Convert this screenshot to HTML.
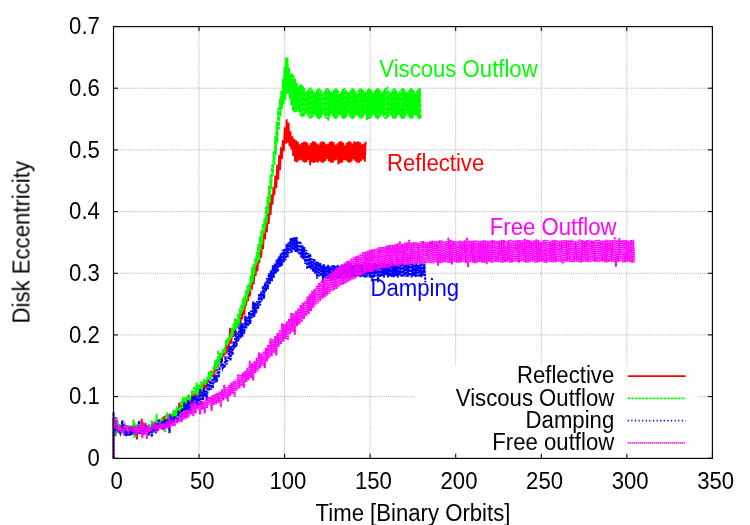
<!DOCTYPE html>
<html><head><meta charset="utf-8"><title>Disk Eccentricity</title>
<style>html,body{margin:0;padding:0;background:#fff;width:750px;height:525px;overflow:hidden}</style></head>
<body>
<svg width="750" height="525" viewBox="0 0 750 525" style="position:absolute;left:0;top:0">
<rect width="750" height="525" fill="#fff"/>
<g stroke="#a4a4a4" stroke-width="0.85" stroke-dasharray="1 1.08" fill="none">
<line x1="199.0" y1="26.6" x2="199.0" y2="458.3"/>
<line x1="284.6" y1="26.6" x2="284.6" y2="458.3"/>
<line x1="370.1" y1="26.6" x2="370.1" y2="458.3"/>
<line x1="455.7" y1="26.6" x2="455.7" y2="458.3"/>
<line x1="541.3" y1="26.6" x2="541.3" y2="458.3"/>
<line x1="626.8" y1="26.6" x2="626.8" y2="458.3"/>
<line x1="113.5" y1="396.6" x2="712.4" y2="396.6"/>
<line x1="113.5" y1="334.9" x2="712.4" y2="334.9"/>
<line x1="113.5" y1="273.3" x2="712.4" y2="273.3"/>
<line x1="113.5" y1="211.6" x2="712.4" y2="211.6"/>
<line x1="113.5" y1="149.9" x2="712.4" y2="149.9"/>
<line x1="113.5" y1="88.2" x2="712.4" y2="88.2"/>
</g>
<g fill="none" stroke-linejoin="miter" stroke-linecap="butt">
<path d="M113.5,458.3 113.5,418.1 114.4,424.8 115.3,420.5 116.3,432.9 117.2,420.4 118.2,430.9 119.1,424.4 120.0,431.2 121.0,424.8 121.9,431.8 122.9,426.5 123.8,432.6 124.7,427.7 125.7,434.8 126.6,426.9 127.6,433.8 128.5,426.5 129.5,434.5 130.4,428.7 131.3,433.4 132.3,426.9 133.2,434.2 134.2,422.7 135.1,432.0 136.0,435.1 137.0,439.4 137.9,425.8 138.9,433.4 139.8,426.1 140.7,431.9 141.7,418.7 142.6,435.3 143.6,424.9 144.5,426.5 145.5,422.9 146.4,430.9 147.3,425.0 148.3,435.4 149.2,424.5 150.2,430.5 151.1,426.2 152.0,432.1 153.0,422.3 153.9,432.5 154.9,421.9 155.8,429.5 156.7,422.0 157.7,428.8 158.6,420.6 159.6,426.1 160.5,419.5 161.5,429.3 162.4,417.3 163.3,427.4 164.3,416.0 165.2,427.2 166.2,415.5 167.1,422.8 168.0,418.8 169.0,422.7 169.9,413.6 170.9,421.0 171.8,414.1 172.7,422.2 173.7,410.9 174.6,418.2 175.6,410.2 176.5,414.2 177.5,412.6 178.4,414.5 179.3,402.7 180.3,413.6 181.2,405.4 182.2,409.6 183.1,402.3 184.0,406.4 185.0,401.7 185.9,410.5 186.9,398.5 187.8,406.0 188.7,394.6 189.7,403.4 190.6,399.0 191.6,404.1 192.5,391.8 193.5,397.4 194.4,393.1 195.3,397.8 196.3,389.1 197.2,396.0 198.2,386.1 199.1,394.7 200.0,386.7 201.0,392.9 201.9,383.4 202.9,397.5 203.8,383.5 204.7,388.8 205.7,384.3 206.6,386.3 207.6,379.2 208.5,382.1 209.5,375.9 210.4,379.0 211.3,370.7 212.3,376.5 213.2,371.5 214.2,378.4 215.1,361.0 216.0,371.2 217.0,364.0 217.9,367.3 218.9,360.2 219.8,361.6 220.7,356.7 221.7,360.2 222.6,353.5 223.6,356.5 224.5,350.2 225.5,352.3 226.4,340.1 227.3,353.2 228.3,349.2 229.2,343.4 230.2,327.8 231.1,343.6 232.0,334.6 233.0,337.0 233.9,328.8 234.9,334.7 235.8,323.9 236.7,328.5 237.7,320.8 238.6,324.6 239.6,315.5 240.5,323.1 241.5,310.4 242.4,319.3 243.3,305.2 244.3,314.7 245.2,302.6 246.2,304.0 247.1,296.1 248.0,301.2 249.0,288.0 249.9,296.4 250.9,281.3 251.8,289.6 252.7,274.5 253.7,284.5 254.6,268.4 255.6,276.0 256.5,264.2 257.5,271.1 258.4,255.2 259.3,263.1 260.3,248.2 261.2,257.7 262.2,242.1 263.1,248.9 264.0,232.2 265.0,239.3 265.9,223.4 266.9,232.1 267.8,212.1 268.7,224.0 269.7,201.7 270.6,215.0 271.6,194.4 272.5,204.7 273.5,186.8 274.4,195.2 275.3,175.5 276.3,188.0 277.2,164.7 278.2,179.6 279.1,155.0 280.0,170.2 281.0,147.3 281.9,159.3 282.9,140.0 283.8,151.2 284.7,127.4 285.7,143.6 286.6,119.4 287.6,142.7 288.5,122.6 289.5,146.1 290.4,131.3 291.3,149.5 292.3,136.4 293.2,156.0 294.2,138.7 295.1,161.8 296.0,140.4 297.0,162.2 297.9,141.7 298.9,160.6 299.8,144.3 300.8,159.7 301.7,143.0 302.6,161.4 303.6,141.8 304.5,162.8 305.5,141.5 306.4,162.2 307.3,142.9 308.3,159.9 309.2,145.3 310.2,165.2 311.1,142.7 312.0,162.3 313.0,141.4 313.9,162.9 314.9,141.6 315.8,162.0 316.8,143.4 317.7,162.6 318.6,144.5 319.6,160.9 320.5,142.3 321.5,162.5 322.4,141.3 323.3,162.7 324.3,142.0 325.2,161.3 326.2,144.2 327.1,159.0 328.0,143.9 329.0,161.5 329.9,141.8 330.9,162.7 331.8,141.3 332.8,162.8 333.7,142.4 334.6,160.7 335.6,144.9 336.5,159.7 337.5,143.2 338.4,164.5 339.3,141.5 340.3,162.9 341.2,141.4 342.2,162.4 343.1,142.6 344.0,160.1 345.0,145.2 345.9,160.4 346.9,142.6 347.8,162.3 348.8,141.4 349.7,162.8 350.6,141.7 351.6,161.7 352.5,143.5 353.5,159.4 354.4,141.2 355.3,161.1 356.3,142.1 357.2,162.7 358.2,141.4 359.1,162.6 360.0,142.4 361.0,161.2 361.9,144.2 362.9,159.5 363.8,143.6 364.8,161.6 365.7,141.6" stroke="#ff0000" stroke-width="1.9"/>
<path d="M113.5,458.3 113.5,417.5 114.2,425.5 115.0,421.0 115.8,436.2 116.5,416.8 117.3,427.5 118.1,423.9 118.8,429.7 119.6,424.3 120.4,432.2 121.2,423.8 121.9,431.7 122.7,426.8 123.5,434.1 124.2,425.5 125.0,433.4 125.8,425.3 126.5,434.6 127.3,426.3 128.1,435.1 128.9,425.2 129.6,432.3 130.4,426.9 131.2,432.0 131.9,428.7 132.7,431.5 133.5,419.5 134.2,437.6 135.0,430.5 135.8,436.7 136.6,424.1 137.3,431.8 138.1,423.8 138.9,429.9 139.6,425.5 140.4,431.4 141.2,425.1 141.9,430.2 142.7,427.0 143.5,432.3 144.3,424.1 145.0,425.8 145.8,426.1 146.6,432.4 147.3,425.6 148.1,427.9 148.9,423.9 149.6,426.9 150.4,428.4 151.2,427.5 152.0,420.3 152.7,433.1 153.5,422.4 154.3,425.5 155.0,422.7 155.8,425.5 156.6,414.0 157.3,427.5 158.1,421.1 158.9,429.2 159.7,418.9 160.4,427.2 161.2,419.8 162.0,426.0 162.7,418.3 163.5,426.8 164.3,422.9 165.0,432.2 165.8,414.4 166.6,423.5 167.4,411.9 168.1,422.7 168.9,416.2 169.7,420.7 170.4,414.3 171.2,422.7 172.0,415.5 172.7,413.2 173.5,411.5 174.3,417.1 175.1,410.3 175.8,417.7 176.6,406.4 177.4,414.7 178.1,408.1 178.9,412.3 179.7,407.2 180.4,409.3 181.2,400.7 182.0,409.7 182.8,396.9 183.5,407.7 184.3,398.2 185.1,406.3 185.8,396.7 186.6,402.6 187.4,395.9 188.1,401.6 188.9,395.7 189.7,400.5 190.5,396.7 191.2,398.5 192.0,390.2 192.8,395.4 193.5,388.4 194.3,387.7 195.1,388.3 195.8,395.0 196.6,382.6 197.4,394.8 198.2,384.8 198.9,393.9 199.7,384.5 200.5,396.9 201.2,381.4 202.0,389.6 202.8,383.9 203.5,382.7 204.3,379.0 205.1,384.8 205.9,380.4 206.6,382.8 207.4,376.3 208.2,379.8 208.9,371.7 209.7,380.2 210.5,371.5 211.2,377.3 212.0,371.7 212.8,374.4 213.6,366.4 214.3,369.1 215.1,360.0 215.9,370.0 216.6,359.0 217.4,367.0 218.2,350.2 219.0,363.6 219.7,353.1 220.5,362.3 221.3,353.0 222.0,356.3 222.8,349.2 223.6,353.4 224.3,348.7 225.1,350.4 225.9,342.4 226.7,343.8 227.4,337.5 228.2,342.7 229.0,337.8 229.7,340.5 230.5,333.5 231.3,338.1 232.0,327.6 232.8,335.4 233.6,322.9 234.4,331.0 235.1,318.2 235.9,329.0 236.7,319.1 237.4,326.2 238.2,313.2 239.0,325.8 239.7,308.3 240.5,317.3 241.3,304.5 242.1,312.5 242.8,298.4 243.6,310.1 244.4,296.4 245.1,305.2 245.9,290.4 246.7,300.8 247.4,285.4 248.2,293.9 249.0,284.3 249.8,290.6 250.5,275.8 251.3,284.7 252.1,267.1 252.8,282.2 253.6,263.8 254.4,274.4 255.1,258.5 255.9,265.3 256.7,251.8 257.5,262.9 258.2,244.0 259.0,260.3 259.8,236.6 260.5,251.2 261.3,230.1 262.1,244.9 262.8,223.7 263.6,234.1 264.4,218.1 265.2,228.9 265.9,206.9 266.7,223.0 267.5,196.8 268.2,213.5 269.0,185.5 269.8,202.7 270.5,174.5 271.3,189.4 272.1,164.9 272.9,175.7 273.6,151.3 274.4,165.5 275.2,136.3 275.9,155.3 276.7,121.5 277.5,142.5 278.2,108.1 279.0,129.2 279.8,98.5 280.6,116.4 281.3,90.5 282.1,108.6 282.9,78.5 283.6,104.3 284.4,67.0 285.2,100.2 285.9,57.6 286.7,93.8 287.5,57.5 288.3,93.6 289.0,67.5 289.8,98.6 290.6,73.4 291.3,105.6 292.1,73.2 292.9,110.7 293.6,75.2 294.4,112.6 295.2,78.9 296.0,112.1 296.7,83.1 297.5,110.1 298.3,86.8 299.0,112.3 299.8,84.7 300.6,115.7 301.3,84.2 302.1,117.3 302.9,85.7 303.7,116.9 304.4,88.3 305.2,114.4 306.0,91.8 306.7,113.2 307.5,90.6 308.3,116.4 309.0,88.4 309.8,118.4 310.6,87.4 311.4,118.2 312.1,88.9 312.9,116.8 313.7,91.5 314.4,114.1 315.2,92.6 316.0,116.2 316.8,89.9 317.5,118.5 318.3,88.4 319.1,119.3 319.8,88.8 320.6,118.1 321.4,90.5 322.1,115.5 322.9,93.4 323.7,114.5 324.5,91.0 325.2,117.5 326.0,88.8 326.8,119.0 327.5,88.0 328.3,120.7 329.1,89.6 329.8,116.6 330.6,91.9 331.4,114.3 332.2,92.5 332.9,116.4 333.7,90.0 334.5,118.7 335.2,88.4 336.0,119.0 336.8,88.7 337.5,117.2 338.3,90.8 339.1,114.9 339.9,93.8 340.6,115.1 341.4,90.9 342.2,118.1 342.9,88.8 343.7,118.9 344.5,88.0 345.2,118.5 346.0,89.6 346.8,116.5 347.6,92.1 348.3,113.5 349.1,92.1 349.9,116.7 350.6,89.6 351.4,118.4 352.2,88.2 352.9,119.0 353.7,88.8 354.5,117.5 355.3,91.1 356.0,114.9 356.8,93.6 357.6,115.7 358.3,90.4 359.1,117.5 359.9,88.9 360.6,119.0 361.4,88.3 362.2,118.5 363.0,89.9 363.7,116.2 364.5,92.5 365.3,114.1 366.0,91.7 366.8,120.0 367.6,89.3 368.3,119.1 369.1,88.3 369.9,118.8 370.7,89.0 371.4,117.2 372.2,91.5 373.0,114.4 373.7,93.0 374.5,115.8 375.3,89.8 376.0,118.2 376.8,88.6 377.6,119.3 378.4,88.3 379.1,118.2 379.9,90.0 380.7,115.7 381.4,92.8 382.2,114.2 383.0,91.4 383.7,117.2 384.5,88.9 385.3,119.1 386.1,88.0 386.8,118.6 387.6,86.7 388.4,117.0 389.1,91.7 389.9,114.2 390.7,92.7 391.4,116.1 392.2,89.9 393.0,118.4 393.8,88.3 394.5,118.9 395.3,88.8 396.1,117.9 396.8,90.8 397.6,115.8 398.4,93.4 399.1,114.8 399.9,91.0 400.7,117.8 401.5,88.9 402.2,119.0 403.0,88.1 403.8,118.7 404.5,89.4 405.3,116.8 406.1,92.0 406.8,113.7 407.6,92.3 408.4,116.5 409.2,89.8 409.9,118.5 410.7,88.0 411.5,119.0 412.2,88.7 413.0,117.8 413.8,90.6 414.6,115.0 415.3,93.5 416.1,115.1 416.9,90.9 417.6,117.8 418.4,88.8 419.2,119.2 419.9,88.1 420.7,118.4" stroke="#00ff00" stroke-width="1.9" stroke-dasharray="4.2 1"/>
<path d="M113.5,458.3 113.5,412.4 114.4,435.7 115.4,421.1 116.4,431.2 117.4,425.3 118.4,431.6 119.4,431.9 120.3,433.6 121.3,428.4 122.3,420.4 123.3,427.7 124.3,435.4 125.3,428.2 126.2,436.3 127.2,431.4 128.2,435.6 129.2,427.3 130.2,435.6 131.2,426.3 132.1,434.5 133.1,427.9 134.1,430.9 135.1,426.6 136.1,434.8 137.1,427.9 138.0,433.5 139.0,420.9 140.0,434.3 141.0,427.7 142.0,431.3 143.0,428.0 144.0,434.1 144.9,424.5 145.9,431.5 146.9,425.7 147.9,432.0 148.9,435.4 149.9,429.8 150.8,427.5 151.8,436.9 152.8,423.8 153.8,430.4 154.8,425.3 155.8,433.3 156.7,423.1 157.7,431.0 158.7,419.3 159.7,427.8 160.7,421.9 161.7,427.1 162.6,421.1 163.6,430.0 164.6,419.8 165.6,426.5 166.6,418.8 167.6,427.9 168.6,418.2 169.5,433.3 170.5,415.1 171.5,423.6 172.5,419.9 173.5,421.9 174.5,416.2 175.4,420.5 176.4,418.7 177.4,421.9 178.4,410.7 179.4,416.3 180.4,416.3 181.3,418.4 182.3,408.5 183.3,416.6 184.3,402.2 185.3,417.7 186.3,404.6 187.2,414.4 188.2,400.0 189.2,411.7 190.2,401.8 191.2,414.3 192.2,396.1 193.2,406.7 194.1,396.3 195.1,404.1 196.1,396.5 197.1,405.3 198.1,395.9 199.1,405.1 200.0,389.1 201.0,404.2 202.0,392.0 203.0,400.2 204.0,387.9 205.0,396.3 205.9,390.5 206.9,400.3 207.9,383.6 208.9,390.6 209.9,380.8 210.9,389.8 211.8,379.3 212.8,388.3 213.8,376.2 214.8,382.7 215.8,374.9 216.8,382.2 217.8,369.2 218.7,377.6 219.7,367.1 220.7,366.2 221.7,358.1 222.7,368.1 223.7,365.8 224.6,367.8 225.6,356.4 226.6,364.5 227.6,359.1 228.6,357.6 229.6,346.3 230.5,360.9 231.5,345.9 232.5,355.1 233.5,341.6 234.5,348.5 235.5,330.1 236.4,346.7 237.4,331.9 238.4,341.3 239.4,324.9 240.4,338.3 241.4,322.7 242.4,336.7 243.3,323.2 244.3,333.7 245.3,315.7 246.3,328.3 247.3,317.2 248.3,326.0 249.2,311.7 250.2,324.0 251.2,310.7 252.2,317.9 253.2,301.5 254.2,316.9 255.1,302.6 256.1,313.4 257.1,301.1 258.1,309.0 259.1,293.7 260.1,305.4 261.0,291.8 262.0,300.7 263.0,286.0 264.0,298.6 265.0,282.5 266.0,291.2 267.0,278.2 267.9,289.2 268.9,273.4 269.9,284.0 270.9,270.3 271.9,281.1 272.9,265.3 273.8,277.6 274.8,263.5 275.8,273.5 276.8,259.3 277.8,271.9 278.8,256.5 279.7,267.0 280.7,253.5 281.7,266.2 282.7,249.8 283.7,262.5 284.7,248.6 285.6,260.3 286.6,243.8 287.6,257.3 288.6,242.3 289.6,253.1 290.6,238.3 291.6,253.0 292.5,237.7 293.5,250.4 294.5,237.4 295.5,252.1 296.5,237.0 297.5,252.5 298.4,240.9 299.4,255.0 300.4,241.2 301.4,257.7 302.4,245.4 303.4,259.4 304.3,247.1 305.3,263.9 306.3,250.1 307.3,269.1 308.3,253.0 309.3,268.1 310.2,254.0 311.2,269.4 312.2,258.5 313.2,271.6 314.2,258.6 315.2,273.6 316.2,261.6 317.1,278.7 318.1,261.8 319.1,276.4 320.1,263.2 321.1,276.0 322.1,264.9 323.0,282.2 324.0,264.4 325.0,277.8 326.0,266.7 327.0,278.0 328.0,264.9 328.9,278.8 329.9,266.5 330.9,281.4 331.9,265.6 332.9,279.0 333.9,265.2 334.8,277.9 335.8,266.1 336.8,278.7 337.8,264.9 338.8,278.1 339.8,266.7 340.8,278.1 341.7,264.6 342.7,278.4 343.7,265.3 344.7,276.7 345.7,264.6 346.7,278.1 347.6,264.5 348.6,276.7 349.6,265.2 350.6,277.7 351.6,263.5 352.6,277.3 353.5,265.7 354.5,276.9 355.5,263.8 356.5,277.3 357.5,264.6 358.5,275.9 359.4,264.2 360.4,277.7 361.4,263.4 362.4,276.4 363.4,265.0 364.4,277.3 365.4,263.4 366.3,277.3 367.3,264.9 368.3,276.5 369.3,263.6 370.3,277.7 371.3,264.4 372.2,281.5 373.2,264.0 374.2,277.5 375.2,263.4 376.2,276.2 377.2,265.0 378.1,282.1 379.1,263.3 380.1,277.1 381.1,264.9 382.1,276.1 383.1,263.5 384.0,277.5 385.0,264.0 386.0,275.0 387.0,264.1 388.0,277.4 389.0,263.4 390.0,276.1 390.9,265.3 391.9,276.8 392.9,263.0 393.9,277.1 394.9,264.5 395.9,276.0 396.8,263.5 397.8,277.3 398.8,264.1 399.8,275.5 400.8,263.8 401.8,277.3 402.7,263.0 403.7,276.3 404.7,264.9 405.7,276.7 406.7,263.6 407.7,277.0 408.6,264.5 409.6,276.0 410.6,263.7 411.6,277.3 412.6,263.8 413.6,275.8 414.6,264.2 415.5,277.0 416.5,263.2 417.5,276.3 418.5,264.9 419.5,276.6 420.5,263.3 421.4,277.2 422.4,264.4 423.4,275.6 424.4,263.5 425.4,282.3" stroke="#0000ff" stroke-width="2.1" stroke-dasharray="2.5 1"/>
<path d="M113.5,458.3 113.5,419.1 114.6,427.2 115.8,416.9 116.9,428.9 118.1,428.1 119.2,431.4 120.4,425.6 121.5,431.7 122.7,429.8 123.8,432.3 125.0,425.3 126.2,428.7 127.3,425.2 128.5,432.1 129.6,429.8 130.8,425.4 131.9,431.6 133.1,430.4 134.2,426.0 135.4,434.8 136.6,426.8 137.7,434.1 138.9,425.4 140.0,432.8 141.2,421.8 142.3,438.2 143.5,425.4 144.6,434.5 145.8,423.8 146.9,438.9 148.1,425.6 149.3,431.6 150.4,428.5 151.6,429.6 152.7,423.9 153.9,429.1 155.0,421.8 156.2,432.7 157.3,425.1 158.5,430.4 159.7,421.5 160.8,428.3 162.0,423.6 163.1,430.4 164.3,423.4 165.4,429.5 166.6,421.6 167.7,428.1 168.9,414.0 170.1,428.2 171.2,419.9 172.4,425.9 173.5,420.9 174.7,426.0 175.8,417.8 177.0,423.3 178.1,419.4 179.3,420.4 180.4,415.3 181.6,422.0 182.8,412.1 183.9,419.6 185.1,409.8 186.2,419.2 187.4,409.8 188.5,417.5 189.7,409.6 190.8,414.1 192.0,402.7 193.2,416.4 194.3,400.9 195.5,413.4 196.6,404.5 197.8,409.2 198.9,402.0 200.1,414.5 201.2,401.4 202.4,409.7 203.5,401.0 204.7,413.4 205.9,398.7 207.0,407.8 208.2,396.8 209.3,404.5 210.5,396.7 211.6,410.9 212.8,395.0 213.9,405.1 215.1,394.1 216.3,404.2 217.4,392.9 218.6,402.7 219.7,391.3 220.9,407.1 222.0,389.4 223.2,400.4 224.3,384.7 225.5,398.5 226.7,386.9 227.8,401.5 229.0,384.9 230.1,395.8 231.3,382.7 232.4,394.0 233.6,381.1 234.7,396.9 235.9,379.6 237.0,390.1 238.2,374.0 239.4,388.3 240.5,374.7 241.7,386.4 242.8,372.7 244.0,387.8 245.1,370.6 246.3,381.8 247.4,367.9 248.6,380.2 249.8,360.5 250.9,378.0 252.1,363.2 253.2,380.5 254.4,361.0 255.5,372.8 256.7,357.8 257.8,371.1 259.0,352.3 260.1,368.3 261.3,353.4 262.5,365.8 263.6,350.7 264.8,368.3 265.9,347.7 267.1,361.3 268.2,345.1 269.4,358.5 270.5,338.3 271.7,356.1 272.9,339.2 274.0,352.8 275.2,336.0 276.3,355.5 277.5,332.8 278.6,346.6 279.8,330.2 280.9,344.0 282.1,323.2 283.3,341.8 284.4,323.8 285.6,338.9 286.7,321.4 287.9,339.9 289.0,318.8 290.2,334.0 291.3,312.8 292.5,331.8 293.6,313.2 294.8,334.6 296.0,311.1 297.1,326.2 298.3,308.3 299.4,324.4 300.6,305.0 301.7,322.0 302.9,302.2 304.0,319.0 305.2,301.0 306.4,316.1 307.5,296.6 308.7,313.9 309.8,293.7 311.0,311.3 312.1,290.8 313.3,307.8 314.4,288.7 315.6,305.5 316.8,285.2 317.9,303.5 319.1,283.0 320.2,301.2 321.4,281.0 322.5,298.6 323.7,279.1 324.8,297.2 326.0,277.1 327.1,295.5 328.3,274.3 329.5,293.6 330.6,273.1 331.8,291.2 332.9,271.3 334.1,290.3 335.2,268.8 336.4,289.1 337.5,267.3 338.7,287.2 339.9,266.2 341.0,285.1 342.2,264.3 343.3,284.6 344.5,262.5 345.6,283.4 346.8,261.0 347.9,281.8 349.1,260.5 350.2,280.7 351.4,258.5 352.6,279.7 353.7,257.0 354.9,278.7 356.0,256.0 357.2,276.5 358.3,255.3 359.5,275.7 360.6,253.5 361.8,275.0 363.0,252.2 364.1,274.1 365.3,251.8 366.4,272.4 367.6,250.7 368.7,272.0 369.9,249.6 371.0,272.1 372.2,249.2 373.4,271.1 374.5,249.1 375.7,269.8 376.8,248.2 378.0,270.0 379.1,247.1 380.3,269.8 381.4,246.9 382.6,268.4 383.7,247.0 384.9,267.9 386.1,245.7 387.2,268.1 388.4,245.1 389.5,267.9 390.7,244.9 391.8,266.5 393.0,245.1 394.1,266.2 395.3,244.1 396.5,266.4 397.6,243.4 398.8,266.0 399.9,241.3 401.1,264.9 402.2,243.7 403.4,265.1 404.5,242.5 405.7,265.4 406.8,242.4 408.0,265.0 409.2,239.7 410.3,263.9 411.5,242.5 412.6,264.5 413.8,242.0 414.9,264.6 416.1,241.9 417.2,264.0 418.4,242.5 419.6,263.6 420.7,241.3 421.9,264.0 423.0,241.1 424.2,264.1 425.3,241.6 426.5,263.2 427.6,242.1 428.8,263.0 430.0,241.3 431.1,263.5 432.3,240.5 433.4,263.5 434.6,241.0 435.7,262.6 436.9,241.4 438.0,265.8 439.2,240.3 440.3,263.3 441.5,240.4 442.7,262.8 443.8,241.1 445.0,262.0 446.1,241.1 447.3,262.8 448.4,237.9 449.6,263.0 450.7,239.8 451.9,264.5 453.1,240.9 454.2,262.1 455.4,240.8 456.5,262.8 457.7,240.7 458.8,262.7 460.0,240.5 461.1,262.5 462.3,241.2 463.5,262.1 464.6,240.3 465.8,262.9 466.9,237.7 468.1,267.1 469.2,240.6 470.4,262.1 471.5,241.1 472.7,262.6 473.8,240.2 475.0,263.1 476.2,240.1 477.3,262.8 478.5,240.7 479.6,262.0 480.8,240.8 481.9,262.6 483.1,240.2 484.2,262.6 485.4,240.2 486.6,264.3 487.7,240.7 488.9,261.8 490.0,240.6 491.2,262.6 492.3,240.0 493.5,262.8 494.6,240.3 495.8,262.1 496.9,240.9 498.1,261.9 499.3,240.5 500.4,262.7 501.6,239.9 502.7,262.7 503.9,240.1 505.0,262.3 506.2,241.1 507.3,261.9 508.5,240.2 509.7,262.6 510.8,239.6 512.0,262.5 513.1,240.3 514.3,261.8 515.4,240.5 516.6,262.1 517.7,240.1 518.9,262.6 520.1,240.1 521.2,262.3 522.4,240.4 523.5,261.6 524.7,238.8 525.8,262.6 527.0,239.8 528.1,262.7 529.3,240.0 530.4,262.1 531.6,240.7 532.8,261.7 533.9,240.4 535.1,262.6 536.2,239.3 537.4,262.6 538.5,240.0 539.7,261.9 540.8,241.5 542.0,261.8 543.2,240.1 544.3,262.6 545.5,239.7 546.6,262.9 547.8,240.1 548.9,261.7 550.1,241.2 551.2,262.2 552.4,240.0 553.5,262.5 554.7,239.8 555.9,262.3 557.0,240.3 558.2,261.8 559.3,240.6 560.5,262.4 561.6,240.3 562.8,264.3 563.9,239.7 565.1,262.2 566.3,240.1 567.4,261.7 568.6,240.4 569.7,262.3 570.9,239.8 572.0,262.5 573.2,239.9 574.3,262.1 575.5,241.1 576.7,261.8 577.8,239.9 579.0,262.3 580.1,239.5 581.3,262.5 582.4,240.0 583.6,262.0 584.7,240.8 585.9,261.8 587.0,240.0 588.2,262.2 589.4,239.8 590.5,262.3 591.7,240.4 592.8,261.5 594.0,240.7 595.1,262.0 596.3,239.8 597.4,262.2 598.6,239.7 599.8,262.3 600.9,240.5 602.1,261.4 603.2,240.5 604.4,262.2 605.5,239.7 606.7,262.4 607.8,239.9 609.0,262.0 610.2,240.2 611.3,261.8 612.5,240.0 613.6,261.9 614.8,237.3 615.9,266.6 617.1,240.1 618.2,261.9 619.4,238.3 620.5,261.7 621.7,240.2 622.9,262.5 624.0,239.7 625.2,262.5 626.3,240.1 627.5,261.7 628.6,240.9 629.8,261.9 630.9,239.9 632.1,262.9 633.3,239.7 634.4,262.4" stroke="#ff00ff" stroke-width="2" stroke-dasharray="1.6 0.55"/>
</g>
<rect x="414" y="366" width="285" height="91.5" fill="#fff"/>
<rect x="113.5" y="26.6" width="598.9" height="431.8" fill="none" stroke="#000" stroke-width="1.15"/>
<g stroke="#000" stroke-width="1.05">
<line x1="113.5" y1="458.3" x2="113.5" y2="453.7"/>
<line x1="113.5" y1="26.6" x2="113.5" y2="31.1"/>
<line x1="113.5" y1="458.3" x2="118.0" y2="458.3"/>
<line x1="712.4" y1="458.3" x2="707.8" y2="458.3"/>
<line x1="199.0" y1="458.3" x2="199.0" y2="453.7"/>
<line x1="199.0" y1="26.6" x2="199.0" y2="31.1"/>
<line x1="113.5" y1="396.6" x2="118.0" y2="396.6"/>
<line x1="712.4" y1="396.6" x2="707.8" y2="396.6"/>
<line x1="284.6" y1="458.3" x2="284.6" y2="453.7"/>
<line x1="284.6" y1="26.6" x2="284.6" y2="31.1"/>
<line x1="113.5" y1="334.9" x2="118.0" y2="334.9"/>
<line x1="712.4" y1="334.9" x2="707.8" y2="334.9"/>
<line x1="370.1" y1="458.3" x2="370.1" y2="453.7"/>
<line x1="370.1" y1="26.6" x2="370.1" y2="31.1"/>
<line x1="113.5" y1="273.3" x2="118.0" y2="273.3"/>
<line x1="712.4" y1="273.3" x2="707.8" y2="273.3"/>
<line x1="455.7" y1="458.3" x2="455.7" y2="453.7"/>
<line x1="455.7" y1="26.6" x2="455.7" y2="31.1"/>
<line x1="113.5" y1="211.6" x2="118.0" y2="211.6"/>
<line x1="712.4" y1="211.6" x2="707.8" y2="211.6"/>
<line x1="541.3" y1="458.3" x2="541.3" y2="453.7"/>
<line x1="541.3" y1="26.6" x2="541.3" y2="31.1"/>
<line x1="113.5" y1="149.9" x2="118.0" y2="149.9"/>
<line x1="712.4" y1="149.9" x2="707.8" y2="149.9"/>
<line x1="626.8" y1="458.3" x2="626.8" y2="453.7"/>
<line x1="626.8" y1="26.6" x2="626.8" y2="31.1"/>
<line x1="113.5" y1="88.2" x2="118.0" y2="88.2"/>
<line x1="712.4" y1="88.2" x2="707.8" y2="88.2"/>
<line x1="712.4" y1="458.3" x2="712.4" y2="453.7"/>
<line x1="712.4" y1="26.6" x2="712.4" y2="31.1"/>
<line x1="113.5" y1="26.5" x2="118.0" y2="26.5"/>
<line x1="712.4" y1="26.5" x2="707.8" y2="26.5"/>
</g>
<g font-family="Liberation Sans, sans-serif" font-size="23.1px" fill="#000" opacity="0.999">
<text transform="translate(99.90,465.90) scale(0.9589,1)" text-anchor="end">0</text>
<text transform="translate(116.75,488.60) scale(0.9589,1)" text-anchor="middle">0</text>
<text transform="translate(99.90,404.22) scale(0.9589,1)" text-anchor="end">0.1</text>
<text transform="translate(202.31,488.60) scale(0.9589,1)" text-anchor="middle">50</text>
<text transform="translate(99.90,342.54) scale(0.9589,1)" text-anchor="end">0.2</text>
<text transform="translate(287.88,488.60) scale(0.9589,1)" text-anchor="middle">100</text>
<text transform="translate(99.90,280.86) scale(0.9589,1)" text-anchor="end">0.3</text>
<text transform="translate(373.44,488.60) scale(0.9589,1)" text-anchor="middle">150</text>
<text transform="translate(99.90,219.19) scale(0.9589,1)" text-anchor="end">0.4</text>
<text transform="translate(459.01,488.60) scale(0.9589,1)" text-anchor="middle">200</text>
<text transform="translate(99.90,157.51) scale(0.9589,1)" text-anchor="end">0.5</text>
<text transform="translate(544.57,488.60) scale(0.9589,1)" text-anchor="middle">250</text>
<text transform="translate(99.90,95.83) scale(0.9589,1)" text-anchor="end">0.6</text>
<text transform="translate(630.14,488.60) scale(0.9589,1)" text-anchor="middle">300</text>
<text transform="translate(99.90,34.15) scale(0.9589,1)" text-anchor="end">0.7</text>
<text transform="translate(715.70,488.60) scale(0.9589,1)" text-anchor="middle">350</text>
<text transform="translate(413.00,521.10) scale(0.9589,1)" text-anchor="middle">Time [Binary Orbits]</text>
<text transform="translate(29.50,242.20) rotate(-90) scale(0.9589,1)" text-anchor="middle">Disk Eccentricity</text>
<text transform="translate(379.30,77.00) scale(0.9589,1)" fill="#00ff00">Viscous Outflow</text>
<text transform="translate(387.00,170.50) scale(0.9589,1)" fill="#ff0000">Reflective</text>
<text transform="translate(370.40,296.00) scale(0.9589,1)" fill="#0000ff">Damping</text>
<text transform="translate(489.80,234.80) scale(0.9589,1)" fill="#ff00ff">Free Outflow</text>
<text transform="translate(614.20,383.40) scale(0.9589,1)" text-anchor="end">Reflective</text>
<text transform="translate(614.20,405.50) scale(0.9589,1)" text-anchor="end">Viscous Outflow</text>
<text transform="translate(614.20,427.80) scale(0.9589,1)" text-anchor="end">Damping</text>
<text transform="translate(614.20,450.00) scale(0.9589,1)" text-anchor="end">Free outflow</text>
</g>
<g fill="none" stroke-width="1.8">
<line x1="627.7" y1="376.2" x2="685.6" y2="376.2" stroke="#ff0000"/>
<line x1="627.7" y1="398.3" x2="685.6" y2="398.3" stroke="#00ff00" stroke-dasharray="2.4 1.2"/>
<line x1="627.7" y1="420.6" x2="685.6" y2="420.6" stroke="#0000ff" stroke-dasharray="1.2 2.4"/>
<line x1="627.7" y1="442.8" x2="685.6" y2="442.8" stroke="#ff00ff" stroke-dasharray="1.2 0.8"/>
</g>
</svg>
</body></html>
